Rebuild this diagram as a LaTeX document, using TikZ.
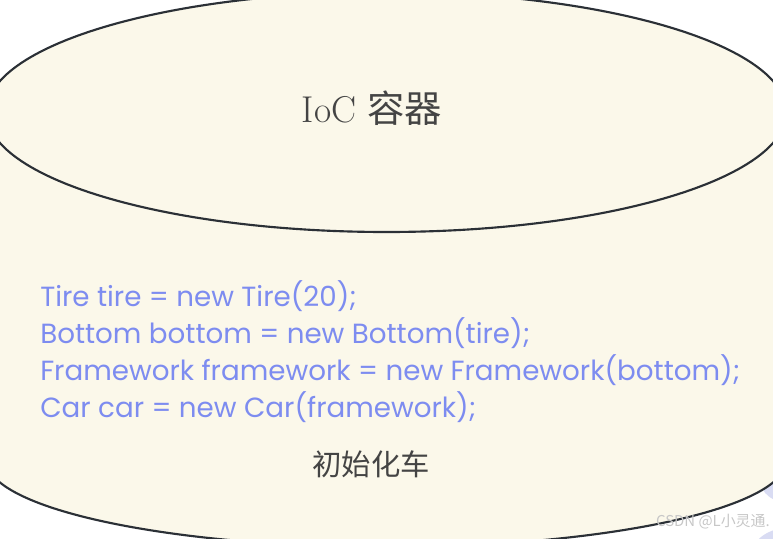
\documentclass[tikz,border=0pt]{standalone}
\usepackage{fontspec}
\newfontfamily\codefont{Poppins}
\newfontfamily\cjk{Noto Sans CJK SC}
\definecolor{cream}{HTML}{FBF8EA}
\definecolor{edge}{HTML}{2B3036}
\definecolor{codeblue}{HTML}{7D8CF0}
\definecolor{labelgray}{HTML}{444444}
\definecolor{lavender}{HTML}{D9DCF3}
\tikzset{
  code/.style={anchor=base west, inner sep=0pt, text=codeblue,
    font=\codefont\fontsize{20.8}{24}\selectfont},
  label/.style={inner sep=0pt, text=labelgray}
}

\begin{document}
\begin{tikzpicture}[x=0.75pt, y=-0.75pt]

    \useasboundingbox (0,0) rectangle (773,538);

    % other shape, cut off at the right edge
    \fill[lavender] (800,485) ellipse [x radius=38, y radius=20];
    \fill[lavender] (800,548) ellipse [x radius=45, y radius=22];

    % cylinder body
    \coordinate (top) at (386.5,112);
    \coordinate (bot) at (386.5,460);
    \filldraw[fill=cream, draw=edge, line width=1.6pt]
        (-13.5,112) -- (-13.5,460)
        arc[start angle=180, end angle=0, x radius=400, y radius=87]
        -- (786.5,112) -- cycle;
    \filldraw[fill=cream, draw=edge, line width=1.6pt]
        (top) ellipse [x radius=400, y radius=120];

    \node[label, font=\fontsize{28}{30}\selectfont] (ioc) at (372,108) {IoC \cjk 容器};

    \node[code] (tire) at (40,306) {Tire tire = new Tire(20);};
    \node[code] (bottom) at (40,343) {Bottom bottom = new Bottom(tire);};
    \node[code] (framework) at (40,380) {Framework framework = new Framework(bottom);};
    \node[code] (car) at (40,417) {Car car = new Car(framework);};

    \node[label, font=\cjk\fontsize{22}{24}\selectfont] (init) at (371,464) {初始化车};

    \node[anchor=east, inner sep=0pt, text=black!22, font=\cjk\fontsize{11.2}{13}\selectfont]
        (mark) at (770,522) {CSDN @L小灵通.};

\end{tikzpicture}
\end{document}
